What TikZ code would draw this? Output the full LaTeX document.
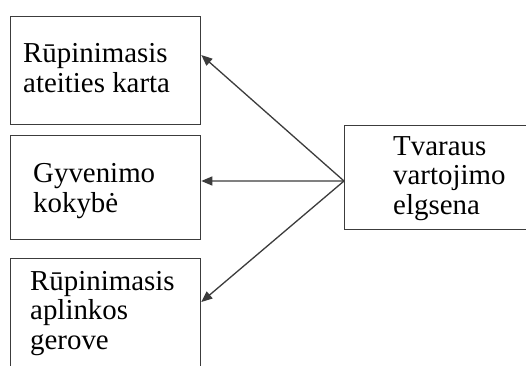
\documentclass[tikz,border=0pt]{standalone}
\usepackage{fontspec}
\setmainfont{Liberation Serif}
\usetikzlibrary{arrows.meta}
\definecolor{linegray}{HTML}{3C3C3C}
\tikzset{
  box/.style={draw=linegray, line width=1.3bp, rectangle, anchor=north west, inner sep=0pt},
  % multi-line labels are placed by the baseline of their last line
  label/.style={anchor=base west, align=left, inner sep=0pt, text=black,
    font=\fontsize{29}{29.5}\selectfont},
  link/.style={draw=linegray, line width=1.3bp, -{Triangle[length=11bp,width=9bp]}}
}
\begin{document}
\begin{tikzpicture}[x=1bp,y=-1bp]
\useasboundingbox (0,0) rectangle (526,365);
\clip (0,0) rectangle (526,365);
\fill[white] (0,0) rectangle (526,365);

% three outcome boxes on the left
\node[box, minimum width=190bp, minimum height=108bp] (b1) at (10,16) {};
\node[box, minimum width=190bp, minimum height=104bp] (b2) at (10,135) {};
\node[box, minimum width=190bp, minimum height=130bp] (b3) at (10,258) {};
% source box on the right
\node[box, minimum width=200bp, minimum height=104bp] (b4) at (344,125) {};

% box texts
\node[label] (t1) at (23,92) {Rūpinimasis\\ateities karta};
\node[label] (t2) at (33,212) {Gyvenimo\\kokybė};
\node[label] (t3) at (30,349) {Rūpinimasis\\aplinkos\\gerove};
\node[label] (t4) at (393,214) {Tvaraus\\vartojimo\\elgsena};

% arrow end points
\coordinate (hub) at ([yshift=-56bp]b4.north west);
\coordinate (e1) at ([yshift=-39bp]b1.north east);
\coordinate (e2) at ([yshift=-46bp]b2.north east);
\coordinate (e3) at ([yshift=-44bp]b3.north east);

\draw[link] (hub) -- (e1);
\draw[link] (hub) -- (e2);
\draw[link] (hub) -- (e3);
\end{tikzpicture}
\end{document}
